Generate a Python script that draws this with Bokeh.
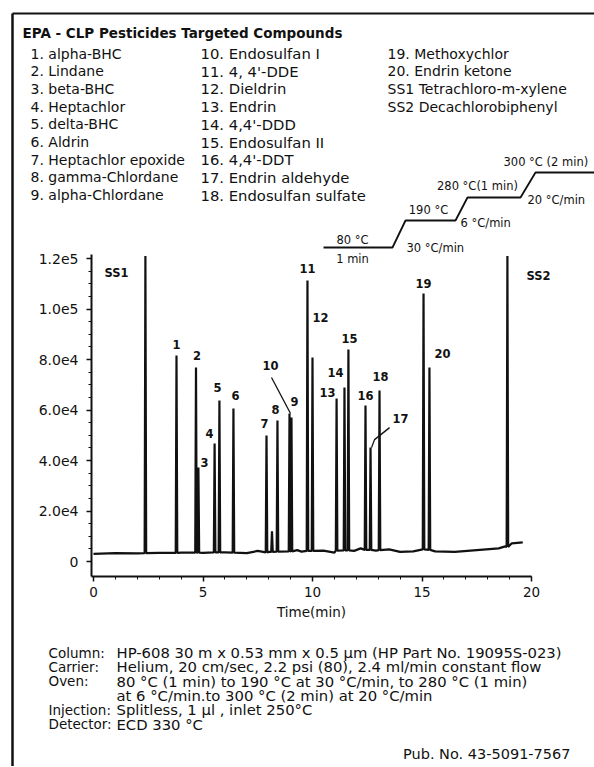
from bokeh.plotting import figure
from bokeh.models import Range1d, LinearAxis, FixedTicker, ColumnDataSource
from bokeh.embed import file_html
from bokeh.resources import INLINE
from bokeh.core.properties import value

# ---------------- data ----------------
peak_names = ["SS1", "1", "2", "3", "4", "5", "6", "7", "8", "10", "9", "11", "12",
              "13", "14", "15", "16", "17", "18", "19", "20", "SS2"]
peak_times = [2.37, 3.79, 4.68, 4.79, 5.53, 5.75, 6.39, 7.90, 8.40, 8.95, 9.04, 9.77, 10.00,
              11.10, 11.46, 11.64, 12.42, 12.65, 13.06, 15.07, 15.34, 18.90]
peak_heights = [121000, 81600, 76800, 37200, 46700, 63800, 60600, 49900, 55800, 58600, 57000,
                111300, 80800, 64600, 68900, 84000, 61800, 45100, 67700, 106100, 76800, 121000]
peak_feet = [3300, 3400, 3500, 3500, 3600, 3600, 3500, 3600, 3900, 4000, 4000, 4200, 4200,
             4300, 4400, 4400, 4600, 4600, 4500, 4800, 4600, 5800]

minor_peak_times = [8.15]
minor_peak_heights = [12000]
minor_peak_feet = [3800]

baseline_times = [0.0, 1.0, 2.0, 3.0, 4.0, 5.0, 6.0, 7.0, 7.5, 8.0, 9.3, 9.5, 10.5, 11.0,
                  11.9, 12.2, 12.9, 13.5, 14.0, 14.6, 15.6, 16.5, 17.5, 18.5, 18.8, 19.1, 19.6]
baseline_values = [3000, 3300, 3200, 3400, 3500, 3400, 3600, 3300, 4200, 3800, 4500, 3900,
                   4300, 3500, 4200, 5200, 4300, 4800, 3800, 4000, 4000, 3800, 4500, 5200,
                   6000, 7200, 7600]

y_ticks = [0, 20000, 40000, 60000, 80000, 100000, 120000]
y_tick_labels = ["0", "2.0e4", "4.0e4", "6.0e4", "8.0e4", "1.0e5", "1.2e5"]
x_ticks = [0, 5, 10, 15, 20]
x_tick_labels = ["0", "5", "10", "15", "20"]

title_text = "EPA - CLP Pesticides Targeted Compounds"
compounds_col1 = ["1. alpha-BHC", "2. Lindane", "3. beta-BHC", "4. Heptachlor", "5. delta-BHC",
                  "6. Aldrin", "7. Heptachlor epoxide", "8. gamma-Chlordane", "9. alpha-Chlordane"]
compounds_col2 = ["10. Endosulfan I", "11. 4, 4'-DDE", "12. Dieldrin", "13. Endrin",
                  "14. 4,4'-DDD", "15. Endosulfan II", "16. 4,4'-DDT", "17. Endrin aldehyde",
                  "18. Endosulfan sulfate"]
compounds_col3 = ["19. Methoxychlor", "20. Endrin ketone", "SS1 Tetrachloro-m-xylene",
                  "SS2 Decachlorobiphenyl"]

oven_levels = ["80 °C", "190 °C", "280 °C(1 min)", "300 °C (2 min)"]
oven_rates = ["30 °C/min", "6 °C/min", "20 °C/min"]
oven_first_hold = "1 min"

cond_names = ["Column:", "Carrier:", "Oven:", "", "Injection:", "Detector:"]
cond_values = ["HP-608  30 m x 0.53 mm x 0.5 µm (HP Part No. 19095S-023)",
               "Helium, 20 cm/sec, 2.2 psi (80), 2.4 ml/min constant flow",
               "80 °C (1 min) to 190  °C at 30 °C/min, to 280 °C (1 min)",
               "at 6 °C/min.to 300 °C (2 min) at 20 °C/min",
               "Splitless, 1 µl , inlet 250°C",
               "ECD 330 °C"]
pub_text = "Pub. No. 43-5091-7567"

# ---------------- layout geometry (page pixels) ----------------
FONT = "DejaVu Sans"
W, H = 594, 766
PAGE_L, PAGE_T = 0, 0
X0_PX, X_PX_PER_MIN = 93.0, 21.9          # where t=0 sits, pixels per minute
Y0_PX, Y_PX_PER_UNIT = 561.0, 2.525e-3     # where signal 0 sits, pixels per count
AXIS_X_PX, AXIS_Y_PX, AXIS_TOP_PX = 91.0, 576.0, 254.0

def dx(px):
    return px / X_PX_PER_MIN

def dy(px):
    return px / Y_PX_PER_UNIT

x_start = (PAGE_L - X0_PX) / X_PX_PER_MIN
x_end = (PAGE_L + W - X0_PX) / X_PX_PER_MIN
y_end = (Y0_PX - PAGE_T) / Y_PX_PER_UNIT
y_start = (Y0_PX - (PAGE_T + H)) / Y_PX_PER_UNIT

p = figure(width=W, height=H, x_range=Range1d(x_start, x_end), y_range=Range1d(y_start, y_end),
           x_axis_type=None, y_axis_type=None, output_backend="svg", toolbar_location=None,
           min_border=0)
p.outline_line_color = None
p.background_fill_color = "white"
p.border_fill_color = "white"
p.extra_x_ranges = {"px": Range1d(PAGE_L, PAGE_L + W)}
p.extra_y_ranges = {"px": Range1d(PAGE_T + H, PAGE_T)}

axis_x_loc = (AXIS_X_PX - X0_PX) / X_PX_PER_MIN
axis_y_loc = (Y0_PX - AXIS_Y_PX) / Y_PX_PER_UNIT
axis_top = (Y0_PX - AXIS_TOP_PX) / Y_PX_PER_UNIT

ink = "#111111"

yax = LinearAxis(fixed_location=axis_x_loc, bounds=(axis_y_loc, axis_top),
                 ticker=FixedTicker(ticks=y_ticks, minor_ticks=list(range(0, 125000, 5000))),
                 major_label_overrides={t: l for t, l in zip(y_ticks, y_tick_labels)})
xax = LinearAxis(fixed_location=axis_y_loc, bounds=(axis_x_loc, 20),
                 ticker=FixedTicker(ticks=x_ticks, minor_ticks=list(range(0, 21))),
                 major_label_overrides={t: l for t, l in zip(x_ticks, x_tick_labels)},
                 axis_label="Time(min)")
for ax in (yax, xax):
    ax.axis_line_width = 2
    ax.axis_line_color = ink
    ax.major_tick_line_color = ink
    ax.minor_tick_line_color = ink
    ax.major_tick_line_width = 1.5
    ax.major_tick_out = 5
    ax.major_tick_in = 0
    ax.minor_tick_out = 3
    ax.minor_tick_in = 0
    ax.major_label_text_font = FONT
    ax.major_label_text_color = ink
    ax.axis_label_text_font = FONT
    ax.axis_label_text_font_size = "13.5px"
    ax.axis_label_text_font_style = "normal"
    ax.axis_label_text_color = ink
    ax.axis_label_standoff = 4
yax.major_label_text_font_size = "14px"
yax.major_label_standoff = 8
xax.major_label_text_font_size = "13.5px"
xax.major_label_standoff = 5
p.add_layout(yax, "left")
p.add_layout(xax, "below")

# ---------------- chromatogram trace ----------------
PEAK_HW = 0.035
pts = list(zip(baseline_times, baseline_values))
for t, h, f in zip(peak_times + minor_peak_times, peak_heights + minor_peak_heights,
                   peak_feet + minor_peak_feet):
    pts += [(t - PEAK_HW, f), (t, h), (t + PEAK_HW, f)]
pts.sort()
p.line([a for a, _ in pts], [b for _, b in pts], line_color=ink, line_width=2.2)

# peak labels
label_dx = [-29, 0, 1, 6, -5, -2, 2, -2, -2, -19, 3, 0, 8, -9, -9, 1, 0, 30, 1, 0, 13, 31]
label_dy = [17, -11, -12, -5, -10, -13, -13, -12, -11, -48, -16, -12, -40, -6, -15, -11,
            -10, -29, -14, -10, -14, 20]
src = ColumnDataSource(dict(x=peak_times, y=peak_heights, t=peak_names, ox=label_dx, oy=label_dy))
p.text(x="x", y="y", text="t", x_offset="ox", y_offset="oy", source=src,
       text_font=value(FONT), text_font_size="11.5px", text_font_style="bold",
       text_align="center", text_baseline="middle", text_color=ink)

# pointer lines for peaks 10 and 17
i10 = peak_names.index("10")
t10, h10 = peak_times[i10], peak_heights[i10]
p.line([t10 + dx(-18), t10 + dx(1)], [h10 + dy(36), h10], line_color=ink, line_width=1.3)
i17 = peak_names.index("17")
t17, h17 = peak_times[i17], peak_heights[i17]
p.line([t17 + dx(19), t17 + dx(4), t17 + dx(1)], [h17 + dy(20), h17 + dy(8), h17],
       line_color=ink, line_width=1.3)

# ---------------- page texts (pixel coordinates) ----------------
def ptext(xs, ys, texts, size, align="left", bold=False):
    p.text(x=xs, y=ys, text=texts, x_range_name="px", y_range_name="px",
           text_font=value(FONT), text_font_size=f"{size}px",
           text_font_style="bold" if bold else "normal",
           text_align=align, text_baseline="middle", text_color=ink)

# frame lines of the scanned sheet
p.line([12, 12], [13, PAGE_T + H], x_range_name="px", y_range_name="px", line_color=ink, line_width=2.5)
p.line([12, PAGE_L + W], [13, 13], x_range_name="px", y_range_name="px", line_color=ink, line_width=2)

ptext([22], [32], [title_text], 13.5, bold=True)
ROW0, ROWH = 53, 17.7
ptext([30] * len(compounds_col1), [ROW0 + ROWH * i for i in range(len(compounds_col1))], compounds_col1, 14)
ptext([200] * len(compounds_col2), [ROW0 + ROWH * i for i in range(len(compounds_col2))], compounds_col2, 14.8)
ptext([387] * len(compounds_col3), [ROW0 + ROWH * i for i in range(len(compounds_col3))], compounds_col3, 14)

# oven temperature program sketch
hold_x = [(323, 392), (405, 455), (467, 520), (535, PAGE_L + W)]
level_y = [247, 220, 197, 172]
sx, sy = [], []
for (a, b), yy in zip(hold_x, level_y):
    sx += [a, b]
    sy += [yy, yy]
p.line(sx, sy, x_range_name="px", y_range_name="px", line_color=ink, line_width=1.8)
ptext([352, 428, 477], [239, 209, 185], oven_levels[:3], 11.5, align="center")
ptext([503], [161], [oven_levels[3]], 11.5)
ptext([352], [258], [oven_first_hold], 11.5, align="center")
ptext([406, 460, 527], [247, 222, 199], oven_rates, 11.5)

# operating conditions
CROW0, CROWH = 652, 14.3
ptext([48] * len(cond_names), [CROW0 + CROWH * i for i in range(len(cond_names))], cond_names, 13.5)
ptext([116] * len(cond_values), [CROW0 + CROWH * i for i in range(len(cond_values))], cond_values, 14.8)
ptext([570], [753], [pub_text], 14.5, align="right")

open("out.html", "w").write(file_html(p, INLINE))
